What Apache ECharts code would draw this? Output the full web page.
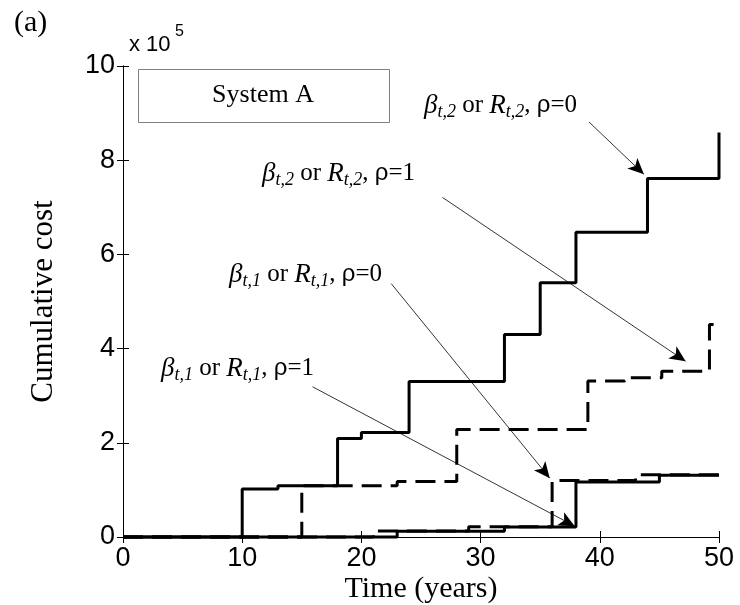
<!DOCTYPE html>
<html>
<head>
<meta charset="utf-8">
<script src="https://cdn.jsdelivr.net/npm/echarts@6/dist/echarts.min.js"></script>
<style>
  html, body { margin: 0; padding: 0; background: #fff; }
  #main { width: 740px; height: 605px; }
</style>
</head>
<body>
<div id="main"></div>
<script>
// step data (cost in units of 1e5)
var xTicks = [0, 10, 20, 30, 40, 50];
var yTicks = [0, 2, 4, 6, 8, 10];

// beta_t,2 / R_t,2, rho=0 (solid, upper)
var t2SolidYears = [0, 10, 13, 18, 20, 24, 32, 35, 38, 44, 50];
var t2SolidCost  = [0, 1.02, 1.09, 2.09, 2.22, 3.30, 4.30, 5.40, 6.47, 7.61, 8.59];

// beta_t,2 / R_t,2, rho=1 (dashed, upper)
var t2DashYears = [0, 15, 23, 28, 39, 42.1, 45.2, 49.2, 50];
var t2DashCost  = [0, 1.09, 1.18, 2.28, 3.31, 3.38, 3.52, 4.51, 4.51];

// beta_t,1 / R_t,1 (solid, lower)
var t1SolidYears = [0, 23, 32, 38, 45, 50];
var t1SolidCost  = [0, 0.12, 0.21, 1.17, 1.31, 1.31];

// beta_t,1 / R_t,1 (dashed, lower)
var t1DashYears = [0, 21, 29, 36, 43, 50];
var t1DashCost  = [0, 0.13, 0.22, 1.20, 1.32, 1.32];

// annotation arrows: [from, to] in data units
var arrows = [
  [[39.1, 8.81], [43.7, 7.70]],
  [[26.8, 7.21], [47.2, 3.73]],
  [[22.5, 5.38], [35.8, 1.25]],
  [[15.9, 3.19], [37.9, 0.23]]
];

function pairs(xs, ys) {
  return xs.map(function (x, i) { return [x, ys[i]]; });
}

var myChart = echarts.init(document.getElementById("main"));

var tickFont = "Liberation Sans";
var serif = "Liberation Serif";

var richLabel = {
  b: { fontFamily: serif, fontStyle: "italic", fontSize: 27, fill: "#000" },
  s: { fontFamily: serif, fontStyle: "italic", fontSize: 18, padding: [14, 0, 0, 0], fill: "#000" },
  n: { fontFamily: serif, fontSize: 25, fill: "#000" },
  p: { fontFamily: tickFont, fontSize: 24, fill: "#000" }
};

function curveLabel(sub, rho, left, top) {
  return {
    type: "text",
    left: left,
    top: top,
    style: {
      text: "{b|β}{s|" + sub + "}{n| or }{b|R}{s|" + sub + "}{n|, }{p|ρ}{n|=" + rho + "}",
      rich: richLabel
    }
  };
}

var axisLineStyle = { lineStyle: { color: "#000", width: 1 } };
var tickStyle = { inside: true, length: 6, lineStyle: { color: "#000", width: 1 } };

myChart.setOption({
  animation: false,
  grid: { left: 123, right: 21, top: 66, bottom: 68, containLabel: false, outerBoundsMode: "none" },
  xAxis: [
    {
      type: "value", min: 0, max: 50, interval: 10, position: "bottom",
      axisLine: axisLineStyle, axisTick: tickStyle, splitLine: { show: false },
      axisLabel: { color: "#000", fontSize: 27, fontFamily: tickFont, margin: 8 },
      name: "Time (years)", nameLocation: "middle", nameGap: 37, nameMoveOverlap: false,
      nameTextStyle: { color: "#000", fontSize: 30, fontFamily: serif, verticalAlign: "top" }
    },
    {
      type: "value", min: 0, max: 50, interval: 10, position: "top",
      axisLine: axisLineStyle, axisTick: tickStyle, splitLine: { show: false },
      axisLabel: { show: false }
    }
  ],
  yAxis: [
    {
      type: "value", min: 0, max: 10, interval: 2, position: "left",
      axisLine: { show: true, lineStyle: { color: "#000", width: 1 } },
      axisTick: { show: true, inside: true, length: 6, lineStyle: { color: "#000" } },
      splitLine: { show: false },
      axisLabel: { color: "#000", fontSize: 27, fontFamily: tickFont, margin: 8 },
      name: "Cumulative cost", nameLocation: "middle", nameGap: 64, nameRotate: 90,
      nameMoveOverlap: false,
      nameTextStyle: { color: "#000", fontSize: 31, fontFamily: serif }
    },
    {
      type: "value", min: 0, max: 10, interval: 2, position: "right",
      axisLine: { show: true, lineStyle: { color: "#000", width: 1 } },
      axisTick: { show: true, inside: true, length: 6, lineStyle: { color: "#000" } },
      splitLine: { show: false }, axisLabel: { show: false }
    }
  ],
  series: [
    {
      name: "t2 rho=1", type: "line", step: "end", symbol: "none", clip: false,
      data: pairs(t2DashYears, t2DashCost),
      lineStyle: { color: "#000", width: 3, type: [20, 9] },
      markLine: {
        silent: true, symbol: ["none", "arrow"], symbolSize: [11, 16],
        label: { show: false },
        lineStyle: { color: "#000", width: 0.8, type: "solid" },
        data: arrows.map(function (a) {
          return [{ coord: a[0] }, { coord: a[1] }];
        })
      }
    },
    {
      name: "t1 dashed", type: "line", step: "end", symbol: "none", clip: false,
      data: pairs(t1DashYears, t1DashCost),
      lineStyle: { color: "#000", width: 3, type: [20, 9] }
    },
    {
      name: "t1 solid", type: "line", step: "end", symbol: "none", clip: false,
      data: pairs(t1SolidYears, t1SolidCost),
      lineStyle: { color: "#000", width: 3 }
    },
    {
      name: "t2 rho=0", type: "line", step: "end", symbol: "none", clip: false,
      data: pairs(t2SolidYears, t2SolidCost),
      lineStyle: { color: "#000", width: 3 }
    }
  ],
  graphic: [
    { type: "text", left: 14, top: 8, style: { text: "(a)", font: "30px 'Liberation Serif'", fill: "#000" } },
    { type: "text", left: 129, top: 34, style: { text: "x 10", font: "22px 'Liberation Sans'", fill: "#000" } },
    { type: "text", left: 175, top: 24, style: { text: "5", font: "16px 'Liberation Sans'", fill: "#000" } },
    {
      type: "rect", left: 138, top: 69,
      shape: { width: 251, height: 53 },
      style: { fill: "#fff", stroke: "#7f7f7f", lineWidth: 1 }
    },
    {
      type: "text", x: 263, y: 95,
      style: { text: "System A", font: "26px 'Liberation Serif'", fill: "#000", align: "center", verticalAlign: "middle" }
    },
    curveLabel("t,2", "0", 424, 92),
    curveLabel("t,2", "1", 262, 160),
    curveLabel("t,1", "0", 229, 261),
    curveLabel("t,1", "1", 161, 355)
  ]
});
</script>
</body>
</html>
